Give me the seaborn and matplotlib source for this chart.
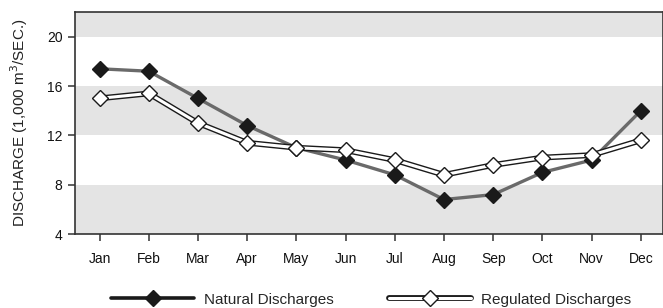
import pandas as pd
import matplotlib
matplotlib.use("Agg")
import matplotlib.pyplot as plt
import seaborn as sns

# Datos
meses = ["Jan", "Feb", "Mar", "Apr", "May", "Jun", "Jul", "Aug", "Sep", "Oct", "Nov", "Dec"]
natural = [17.4, 17.2, 15.0, 12.8, 11.0, 10.0, 8.8, 6.8, 7.2, 9.0, 10.0, 14.0]
regulado = [15.0, 15.4, 13.0, 11.4, 11.0, 10.8, 10.0, 8.8, 9.6, 10.2, 10.4, 11.6]
y_ticks = [4, 8, 12, 16, 20]
bandas = [(4, 8), (12, 16), (20, 22)]

df = pd.DataFrame({"Mes": meses, "Natural": natural, "Regulated": regulado})

sns.set_style("ticks")
plt.rcParams['font.family'] = ['Liberation Sans', 'DejaVu Sans']

fig = plt.figure(figsize=(6.63, 3.08), dpi=100)
ax = fig.add_axes([0.113, 0.24, 0.887, 0.721])

# Bandas grises de fondo
for y0, y1 in bandas:
    ax.axhspan(y0, y1, color="#e4e4e4", lw=0, zorder=0)

# Descargas naturales
sns.lineplot(data=df, x="Mes", y="Natural", sort=False, color="#6a6a6a", lw=2.4, ax=ax, zorder=2)
ax.plot(df["Mes"], df["Natural"], ls="none", marker="D", ms=8.5,
        mfc="#1a1a1a", mec="#1a1a1a", zorder=3)

# Descargas reguladas (línea doble)
sns.lineplot(data=df, x="Mes", y="Regulated", sort=False, color="#1a1a1a", lw=4.2, ax=ax, zorder=4)
sns.lineplot(data=df, x="Mes", y="Regulated", sort=False, color="white", lw=2.2, ax=ax, zorder=5)
ax.plot(df["Mes"], df["Regulated"], ls="none", marker="D", ms=8.5,
        mfc="white", mec="#1a1a1a", mew=1.0, zorder=6)

ax.set_xlim(-0.5, 11.45)
ax.set_ylim(4, 22)
ax.set_yticks(y_ticks)
ax.set_xlabel("")
ax.set_ylabel("DISCHARGE (1,000 m$^3$/SEC.)", fontsize=11, color="#222222", labelpad=12)
ax.tick_params(axis="both", labelsize=10, colors="#333333", length=5, width=1.1, labelcolor="#111111")
ax.tick_params(axis="x", pad=8)
ax.tick_params(axis="y", pad=4)
for s in ax.spines.values():
    s.set_color("#333333")
    s.set_linewidth(1.2)

# Leyenda manual
h_nat = (plt.Line2D([], [], color="#1a1a1a", lw=2.6),
         plt.Line2D([], [], ls="none", marker="D", ms=8.5, mfc="#1a1a1a", mec="#1a1a1a"))
h_reg = (plt.Line2D([], [], color="#1a1a1a", lw=4.2),
         plt.Line2D([], [], color="white", lw=2.2),
         plt.Line2D([], [], ls="none", marker="D", ms=8.5, mfc="white", mec="#1a1a1a"))
ax.legend([h_nat, h_reg], ["Natural Discharges", "Regulated Discharges"],
          loc="center", bbox_to_anchor=(0.56, 0.0275), bbox_transform=fig.transFigure,
          ncol=2, frameon=False, fontsize=11, handlelength=5.4, handletextpad=0.65,
          columnspacing=3.6)

fig.savefig("out.png", dpi=100)
